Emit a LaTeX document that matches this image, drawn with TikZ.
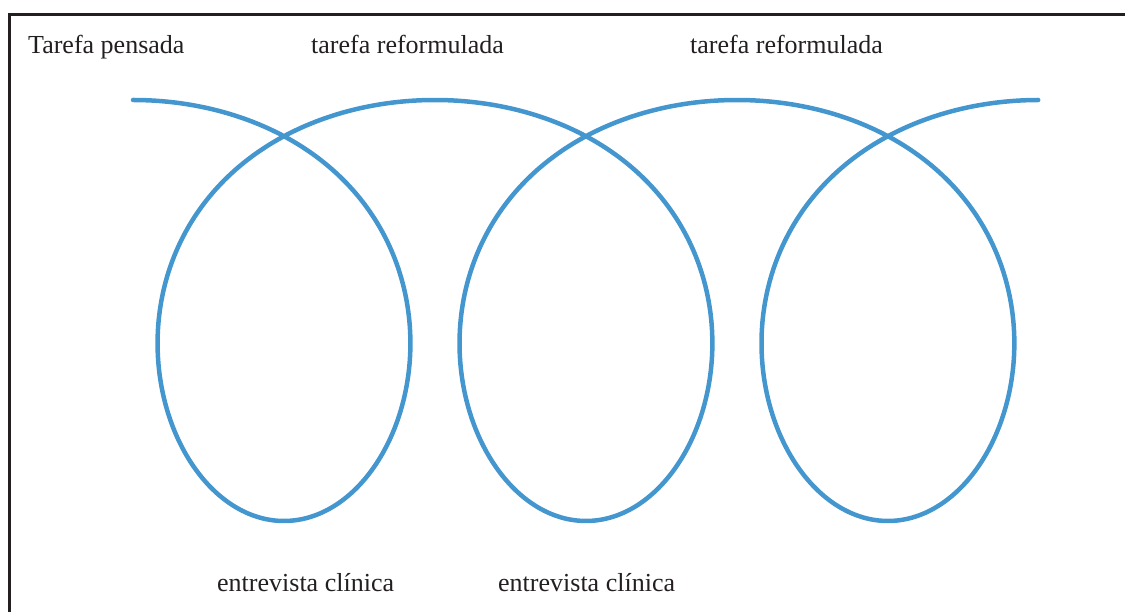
\documentclass[tikz,border=0pt]{standalone}
\usepackage{fontspec}
\setmainfont{Liberation Serif}
\definecolor{loopblue}{RGB}{68,150,206}
\definecolor{framegray}{RGB}{35,31,32}
\begin{document}
\begin{tikzpicture}[x=1pt,y=1pt,
  label/.style={anchor=base west,inner sep=0pt,font=\fontsize{26}{30}\selectfont,text=framegray},
  frameline/.style={draw=framegray,line width=3pt},
  spiral/.style={draw=loopblue,line width=4.5pt,line cap=round}]
\useasboundingbox (0,0) rectangle (1125,612);
% frame (top and left edges)
\coordinate (fbl) at (9.5,0);
\coordinate (ftl) at (9.5,597.5);
\coordinate (ftr) at (1125,597.5);
\draw[frameline] (fbl) -- (ftl) -- (ftr);
% looping curve (prolate trochoid)
\draw[spiral] plot[domain=0:18.8496,samples=600,smooth,variable=\t]
  ({133+48.06*\t+196*sin(\t r)},{311.5+210.5*cos(\t r)-10*cos(2*\t r)});
% labels
\node[label] (tp) at (28,558) {Tarefa pensada};
\node[label] (tr1) at (311,558) {tarefa reformulada};
\node[label] (tr2) at (690,558) {tarefa reformulada};
\node[label] (ec1) at (217,20) {entrevista clínica};
\node[label] (ec2) at (498,20) {entrevista clínica};
\end{tikzpicture}
\end{document}
